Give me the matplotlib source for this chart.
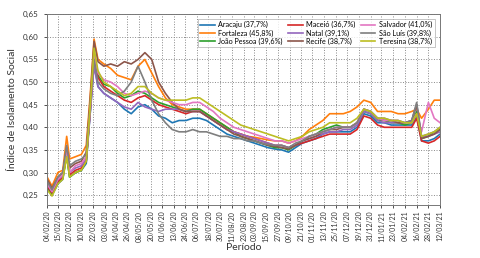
import matplotlib
matplotlib.use("Agg")
import matplotlib.pyplot as plt
import matplotlib.dates as mdates
from matplotlib.ticker import FuncFormatter
import pandas as pd

# sample dates
dates = pd.to_datetime([
    "2020-02-04", "2020-02-09", "2020-02-15", "2020-02-20", "2020-02-24", "2020-02-27",
    "2020-03-04", "2020-03-10", "2020-03-15", "2020-03-19", "2020-03-23", "2020-03-27",
    "2020-04-02", "2020-04-09", "2020-04-16", "2020-04-23", "2020-04-30", "2020-05-07",
    "2020-05-14", "2020-05-21", "2020-05-28", "2020-06-04", "2020-06-11", "2020-06-18",
    "2020-06-25", "2020-07-02", "2020-07-09", "2020-07-16", "2020-07-23", "2020-07-30",
    "2020-08-06", "2020-08-13", "2020-08-20", "2020-08-27", "2020-09-03", "2020-09-10",
    "2020-09-17", "2020-09-24", "2020-10-01", "2020-10-08", "2020-10-15", "2020-10-22",
    "2020-10-29", "2020-11-05", "2020-11-12", "2020-11-19", "2020-11-26", "2020-12-03",
    "2020-12-10", "2020-12-17", "2020-12-24", "2020-12-31", "2021-01-07", "2021-01-14",
    "2021-01-21", "2021-01-28", "2021-02-04", "2021-02-11", "2021-02-16", "2021-02-21",
    "2021-02-28", "2021-03-06", "2021-03-12",
])

aracaju = [0.265, 0.250, 0.275, 0.285, 0.340, 0.290, 0.300, 0.305, 0.320, 0.430, 0.540, 0.490,
           0.475, 0.465, 0.455, 0.440, 0.430, 0.445, 0.450, 0.440, 0.425, 0.420, 0.410, 0.415,
           0.415, 0.420, 0.420, 0.415, 0.405, 0.395, 0.385, 0.380, 0.375, 0.370, 0.365, 0.360,
           0.355, 0.352, 0.350, 0.345, 0.355, 0.365, 0.370, 0.375, 0.385, 0.390, 0.390, 0.390,
           0.390, 0.400, 0.430, 0.425, 0.410, 0.410, 0.405, 0.405, 0.405, 0.405, 0.425, 0.370,
           0.370, 0.375, 0.385]
fortaleza = [0.290, 0.270, 0.300, 0.305, 0.380, 0.330, 0.335, 0.340, 0.360, 0.470, 0.595, 0.550,
             0.540, 0.530, 0.515, 0.510, 0.505, 0.535, 0.550, 0.520, 0.490, 0.465, 0.450, 0.445,
             0.440, 0.440, 0.440, 0.430, 0.420, 0.410, 0.400, 0.390, 0.385, 0.380, 0.378, 0.375,
             0.372, 0.370, 0.370, 0.365, 0.370, 0.380, 0.395, 0.405, 0.415, 0.430, 0.430, 0.430,
             0.435, 0.445, 0.460, 0.455, 0.435, 0.435, 0.435, 0.430, 0.430, 0.435, 0.440, 0.420,
             0.440, 0.460, 0.460]
joao_pessoa = [0.268, 0.252, 0.278, 0.288, 0.338, 0.290, 0.300, 0.305, 0.325, 0.440, 0.565, 0.515,
               0.495, 0.490, 0.475, 0.465, 0.470, 0.480, 0.475, 0.465, 0.455, 0.450, 0.445, 0.440,
               0.435, 0.440, 0.440, 0.430, 0.420, 0.410, 0.400, 0.390, 0.380, 0.375, 0.370, 0.365,
               0.360, 0.355, 0.355, 0.350, 0.360, 0.370, 0.380, 0.385, 0.395, 0.400, 0.405, 0.400,
               0.400, 0.410, 0.435, 0.430, 0.415, 0.415, 0.410, 0.410, 0.405, 0.410, 0.435, 0.375,
               0.380, 0.390, 0.395]
maceio = [0.270, 0.255, 0.280, 0.290, 0.345, 0.295, 0.305, 0.310, 0.325, 0.435, 0.555, 0.510,
          0.490, 0.480, 0.470, 0.460, 0.455, 0.465, 0.470, 0.460, 0.450, 0.445, 0.440, 0.435,
          0.430, 0.435, 0.435, 0.425, 0.415, 0.405, 0.395, 0.390, 0.385, 0.380, 0.375, 0.370,
          0.365, 0.360, 0.360, 0.355, 0.360, 0.365, 0.370, 0.375, 0.380, 0.385, 0.385, 0.385,
          0.385, 0.395, 0.425, 0.420, 0.405, 0.400, 0.400, 0.400, 0.400, 0.400, 0.420, 0.370,
          0.365, 0.370, 0.380]
natal = [0.275, 0.258, 0.285, 0.292, 0.355, 0.300, 0.310, 0.315, 0.330, 0.430, 0.535, 0.490,
         0.475, 0.465, 0.455, 0.445, 0.440, 0.455, 0.445, 0.440, 0.435, 0.440, 0.440, 0.440,
         0.435, 0.435, 0.435, 0.425, 0.415, 0.405, 0.395, 0.390, 0.385, 0.380, 0.375, 0.370,
         0.365, 0.360, 0.360, 0.355, 0.360, 0.370, 0.375, 0.380, 0.385, 0.390, 0.390, 0.395,
         0.395, 0.405, 0.435, 0.430, 0.415, 0.410, 0.410, 0.410, 0.410, 0.415, 0.450, 0.380,
         0.380, 0.385, 0.390]
recife = [0.285, 0.265, 0.290, 0.300, 0.355, 0.310, 0.320, 0.325, 0.345, 0.460, 0.590, 0.545,
          0.535, 0.540, 0.535, 0.545, 0.540, 0.550, 0.565, 0.550, 0.500, 0.475, 0.455, 0.440,
          0.435, 0.435, 0.435, 0.425, 0.415, 0.405, 0.395, 0.385, 0.380, 0.375, 0.370, 0.365,
          0.360, 0.358, 0.355, 0.352, 0.360, 0.370, 0.375, 0.380, 0.390, 0.395, 0.395, 0.400,
          0.400, 0.410, 0.440, 0.435, 0.420, 0.415, 0.415, 0.410, 0.410, 0.415, 0.450, 0.375,
          0.380, 0.385, 0.395]
salvador = [0.275, 0.258, 0.285, 0.295, 0.350, 0.300, 0.315, 0.320, 0.335, 0.440, 0.560, 0.520,
            0.505, 0.500, 0.490, 0.475, 0.470, 0.475, 0.480, 0.475, 0.465, 0.460, 0.455, 0.450,
            0.450, 0.455, 0.455, 0.445, 0.435, 0.420, 0.410, 0.400, 0.395, 0.390, 0.385, 0.380,
            0.375, 0.370, 0.370, 0.365, 0.370, 0.375, 0.380, 0.385, 0.390, 0.395, 0.400, 0.400,
            0.400, 0.410, 0.440, 0.435, 0.420, 0.415, 0.415, 0.415, 0.410, 0.410, 0.430, 0.390,
            0.455, 0.420, 0.410]
sao_luis = [0.280, 0.262, 0.290, 0.300, 0.360, 0.315, 0.325, 0.330, 0.340, 0.445, 0.550, 0.500,
            0.485, 0.475, 0.470, 0.480, 0.500, 0.535, 0.500, 0.460, 0.430, 0.410, 0.395, 0.390,
            0.390, 0.395, 0.390, 0.390, 0.385, 0.380, 0.380, 0.375, 0.375, 0.370, 0.370, 0.365,
            0.362, 0.360, 0.360, 0.355, 0.365, 0.370, 0.380, 0.385, 0.390, 0.395, 0.400, 0.400,
            0.400, 0.410, 0.440, 0.435, 0.420, 0.420, 0.415, 0.415, 0.410, 0.415, 0.455, 0.380,
            0.385, 0.390, 0.400]
teresina = [0.262, 0.248, 0.275, 0.285, 0.335, 0.290, 0.300, 0.305, 0.325, 0.445, 0.575, 0.525,
            0.500, 0.490, 0.480, 0.470, 0.475, 0.490, 0.490, 0.475, 0.465, 0.460, 0.460, 0.460,
            0.460, 0.465, 0.465, 0.455, 0.445, 0.435, 0.425, 0.415, 0.405, 0.400, 0.395, 0.390,
            0.385, 0.380, 0.375, 0.370, 0.375, 0.380, 0.390, 0.395, 0.400, 0.410, 0.410, 0.410,
            0.410, 0.420, 0.440, 0.435, 0.420, 0.420, 0.415, 0.415, 0.410, 0.410, 0.430, 0.380,
            0.385, 0.390, 0.400]

labels = ["Aracaju (37,7%)", "Fortaleza (45,8%)", "João Pessoa (39,6%)",
          "Maceió (36,7%)", "Natal (39,1%)", "Recife (38,7%)",
          "Salvador (41,0%)", "São Luís (39,8%)", "Teresina (38,7%)"]
series = [aracaju, fortaleza, joao_pessoa, maceio, natal, recife, salvador, sao_luis, teresina]

tick_dates = pd.to_datetime([
    "2020-02-04", "2020-02-15", "2020-02-27", "2020-03-10", "2020-03-22", "2020-04-03",
    "2020-04-14", "2020-04-26", "2020-05-08", "2020-05-20", "2020-06-01", "2020-06-13",
    "2020-06-24", "2020-07-06", "2020-07-18", "2020-07-30", "2020-08-11", "2020-08-23",
    "2020-09-03", "2020-09-15", "2020-09-27", "2020-10-09", "2020-10-21", "2020-11-01",
    "2020-11-13", "2020-11-25", "2020-12-07", "2020-12-19", "2020-12-31", "2021-01-11",
    "2021-01-23", "2021-02-04", "2021-02-16", "2021-02-28", "2021-03-12",
])

plt.rcParams['font.family'] = ['Lato', 'DejaVu Sans']

fig = plt.figure(figsize=(4.81, 2.58), dpi=100)
ax = fig.add_axes([0.098, 0.205, 0.817, 0.74])

for vals, lab in zip(series, labels):
    ax.plot(dates, vals, linewidth=1.2, label=lab)

ax.set_xlim(tick_dates[0], tick_dates[-1])
ax.set_ylim(0.228, 0.65)
ax.set_yticks([0.25, 0.30, 0.35, 0.40, 0.45, 0.50, 0.55, 0.60, 0.65])
ax.yaxis.set_major_formatter(FuncFormatter(lambda v, p: f"{v:.2f}".replace(".", ",")))
ax.set_xticks(tick_dates)
ax.xaxis.set_major_formatter(mdates.DateFormatter("%d/%m/%y"))
plt.setp(ax.get_xticklabels(), rotation=90)
ax.tick_params(axis='y', labelsize=5.8, colors='#333333', length=2.5, width=0.6)
ax.tick_params(axis='x', labelsize=5.0, colors='#333333', length=2.5, width=0.6, pad=1.5)

ax.grid(True, color='#888888', linestyle=':', linewidth=0.7)
for s in ax.spines.values():
    s.set_color('#777777')
    s.set_linewidth(0.7)

ax.set_xlabel("Período", fontsize=7.5, color='#333333', labelpad=1)
ax.set_ylabel("Índice de Isolamento Social", fontsize=7.5, color='#333333', labelpad=4)

leg = ax.legend(loc='upper right', ncol=3, fontsize=5.2, frameon=True, fancybox=False,
                handlelength=2.0, columnspacing=0.8, labelspacing=0.12,
                borderpad=0.35, handletextpad=0.45, bbox_to_anchor=(0.995, 0.995))
leg.get_frame().set_edgecolor('#aaaaaa')
leg.get_frame().set_linewidth(0.6)

fig.savefig("out.png", dpi=100)
